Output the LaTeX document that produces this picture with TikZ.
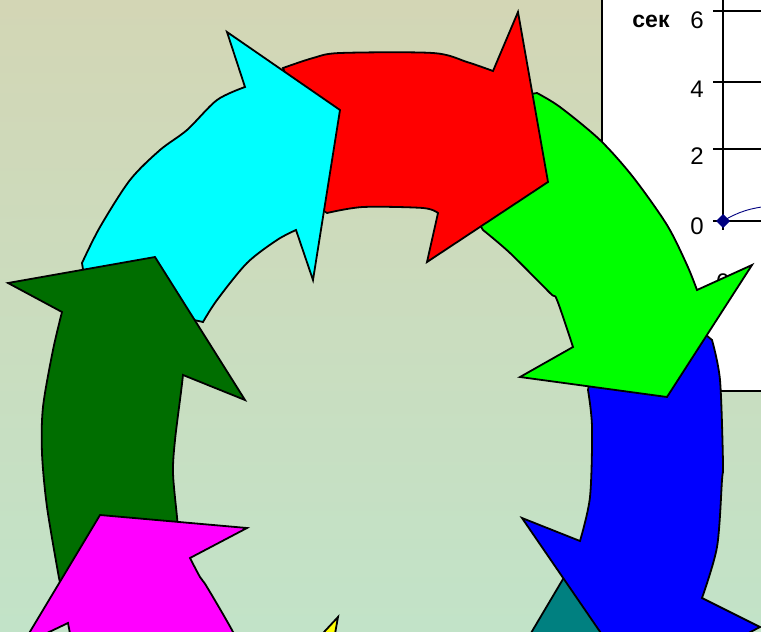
\documentclass[tikz,border=0pt]{standalone}
\usepackage{fontspec}
\setmainfont{Liberation Sans}
\definecolor{bgtop}{HTML}{D3D6B5}
\definecolor{bgbot}{HTML}{C2E3C8}
\definecolor{dkgreen}{RGB}{0,110,0}
\definecolor{tealc}{RGB}{0,128,128}
\definecolor{navyc}{RGB}{0,0,128}
\definecolor{cyanc}{RGB}{0,255,255}
\definecolor{magc}{RGB}{255,0,255}
\definecolor{redc}{RGB}{255,0,0}
\definecolor{greenc}{RGB}{0,255,0}
\definecolor{bluec}{RGB}{0,0,255}
\definecolor{yellowc}{RGB}{255,255,0}
\begin{document}
\begin{tikzpicture}[x=1pt,y=-1pt,
  seg/.style={draw=black, line width=1.8pt, line join=miter},
  chartline/.style={draw=black, line width=1.3pt},
  lbl/.style={font=\fontsize{24}{24}\selectfont, inner sep=0pt},
  sm/.style={smooth, tension=0.5}]
\useasboundingbox (0,0) rectangle (761,632);
\begin{scope}
\clip (0,0) rectangle (761,632);
\shade[top color=bgtop, bottom color=bgbot] (0,0) rectangle (761,632);
% chart
\fill[white] (602,-5) rectangle (770,391);
\draw[chartline] (602,-5) -- (602,391) -- (770,391);
\draw[chartline] (713,11) -- (770,11);
\draw[chartline] (713,82) -- (770,82);
\draw[chartline] (713,149) -- (770,149);
\draw[chartline] (713,221) -- (770,221);
\draw[chartline] (723,-5) -- (723,230);
\draw[navyc, line width=0.9pt] (723,221) .. controls (738,212) and (750,208) .. (770,206);
\fill[navyc] (723,214) -- (730,221) -- (723,228) -- (716,221) -- cycle;
\node[lbl] (t6) at (697,20) {6};
\node[lbl] (t4) at (697,89) {4};
\node[lbl] (t2) at (697,156) {2};
\node[lbl] (t0) at (697,226) {0};
\node[font=\bfseries\fontsize{23}{23}\selectfont, inner sep=0pt] (unit) at (651,21) {сек};
\node[lbl] (x0) at (723,282) {0};
% arrows
\filldraw[seg, fill=yellowc] (338,617) -- (333,645) -- (312,645) -- cycle;
\filldraw[seg, fill=tealc] (566,574) -- (640,600) -- (650,660) -- (515,660) -- cycle;
\filldraw[seg, fill=bluec] (700,330) -- plot[sm] coordinates {(712,340) (720,380) (723,463) (722,480) (717,547) (702,598)}
  -- (760,627) -- (640,690) -- (522,518)
  -- plot[sm] coordinates {(580,541) (590,497) (592,427) (588,390)} -- (590,380) -- cycle;
\filldraw[seg, fill=greenc] (525,95) -- plot[sm] coordinates {(537,93) (560,107) (600,140) (633,177) (667,225) (687,265) (697,290)}
  -- (752,265) -- (667,397) -- (520,377)
  -- plot[sm] coordinates {(573,347) (557,300) (550,293) (510,253) (483,230)} -- (478,222) -- cycle;
\filldraw[seg, fill=redc] (290,85) -- plot[sm] coordinates {(283,68) (313,58) (340,53) (433,53) (467,62) (493,71)}
  -- (518,12) -- (548,182) -- (427,262)
  -- plot[sm] coordinates {(438,213) (423,208) (363,207) (327,213)} -- (315,205) -- cycle;
\filldraw[seg, fill=cyanc] (227,32) -- (340,110) -- (313,280)
  -- plot[sm] coordinates {(296,230) (277,240) (247,263) (217,300) (203,322)} -- (185,318) -- (85,282)
  -- plot[sm] coordinates {(82,263) (100,227) (130,180) (160,150) (187,130) (217,100) (245,87)} -- cycle;
\filldraw[seg, fill=dkgreen] (8,283) -- (155,257) -- (245,400)
  -- plot[sm] coordinates {(183,375) (181,392) (175,440) (173,473) (177,517) (180,548)} -- (63,595)
  -- plot[sm] coordinates {(59,578) (47,507) (42,453) (43,407) (53,350) (62,312)} -- cycle;
\filldraw[seg, fill=magc] (100,515) -- (247,528)
  -- plot[sm] coordinates {(190,558) (200,577) (207,587) (233,632) (245,660)} -- (75,660) -- (68,623) -- (22,645) -- cycle;
\end{scope}
\end{tikzpicture}
\end{document}
